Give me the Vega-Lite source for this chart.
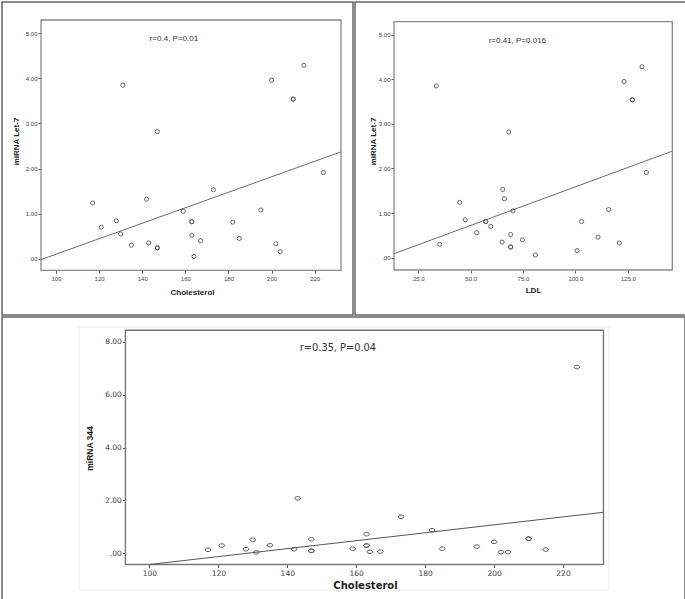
{
  "$schema": "https://vega.github.io/schema/vega-lite/v6.json",
  "padding": {"left": 1, "top": 1, "right": 1, "bottom": 1},
  "background": "white",
  "config": {
    "view": {"stroke": "#666666", "strokeWidth": 1.5},
    "font": "Liberation Sans",
    "concat": {"spacing": 0}
  },
  "datasets": {
    "cholLet7": [
      {"Cholesterol": 117, "Let7": 1.235},
      {"Cholesterol": 121, "Let7": 0.70},
      {"Cholesterol": 128, "Let7": 0.84},
      {"Cholesterol": 130, "Let7": 0.55},
      {"Cholesterol": 131, "Let7": 3.85},
      {"Cholesterol": 135, "Let7": 0.30},
      {"Cholesterol": 142, "Let7": 1.32},
      {"Cholesterol": 143, "Let7": 0.35},
      {"Cholesterol": 147, "Let7": 2.82},
      {"Cholesterol": 147, "Let7": 0.24},
      {"Cholesterol": 147, "Let7": 0.24},
      {"Cholesterol": 159, "Let7": 1.05},
      {"Cholesterol": 163, "Let7": 0.82},
      {"Cholesterol": 163, "Let7": 0.82},
      {"Cholesterol": 163, "Let7": 0.52},
      {"Cholesterol": 164, "Let7": 0.05},
      {"Cholesterol": 167, "Let7": 0.40},
      {"Cholesterol": 173, "Let7": 1.53},
      {"Cholesterol": 182, "Let7": 0.81},
      {"Cholesterol": 185, "Let7": 0.45},
      {"Cholesterol": 195, "Let7": 1.08},
      {"Cholesterol": 200, "Let7": 3.96},
      {"Cholesterol": 202, "Let7": 0.33},
      {"Cholesterol": 204, "Let7": 0.155},
      {"Cholesterol": 210, "Let7": 3.54},
      {"Cholesterol": 210, "Let7": 3.54},
      {"Cholesterol": 215, "Let7": 4.29},
      {"Cholesterol": 224, "Let7": 1.91}
    ],
    "ldlLet7": [
      {"LDL": 33.6, "Let7": 3.85},
      {"LDL": 35.2, "Let7": 0.30},
      {"LDL": 44.8, "Let7": 1.24},
      {"LDL": 47.4, "Let7": 0.85},
      {"LDL": 52.9, "Let7": 0.56},
      {"LDL": 57.2, "Let7": 0.81},
      {"LDL": 57.2, "Let7": 0.81},
      {"LDL": 59.6, "Let7": 0.70},
      {"LDL": 65.0, "Let7": 0.35},
      {"LDL": 65.3, "Let7": 1.53},
      {"LDL": 66.1, "Let7": 1.32},
      {"LDL": 68.2, "Let7": 2.82},
      {"LDL": 69.1, "Let7": 0.52},
      {"LDL": 69.1, "Let7": 0.24},
      {"LDL": 69.1, "Let7": 0.24},
      {"LDL": 70.2, "Let7": 1.05},
      {"LDL": 74.7, "Let7": 0.40},
      {"LDL": 80.9, "Let7": 0.06},
      {"LDL": 100.8, "Let7": 0.16},
      {"LDL": 103.0, "Let7": 0.81},
      {"LDL": 110.8, "Let7": 0.46},
      {"LDL": 115.9, "Let7": 1.08},
      {"LDL": 121.0, "Let7": 0.33},
      {"LDL": 123.2, "Let7": 3.95},
      {"LDL": 127.2, "Let7": 3.54},
      {"LDL": 127.2, "Let7": 3.54},
      {"LDL": 131.8, "Let7": 4.28},
      {"LDL": 133.9, "Let7": 1.91}
    ],
    "chol344": [
      {"Cholesterol": 117, "miR344": 0.13},
      {"Cholesterol": 121, "miR344": 0.29},
      {"Cholesterol": 128, "miR344": 0.15},
      {"Cholesterol": 130, "miR344": 0.51},
      {"Cholesterol": 131, "miR344": 0.03},
      {"Cholesterol": 135, "miR344": 0.30},
      {"Cholesterol": 142, "miR344": 0.15},
      {"Cholesterol": 143, "miR344": 2.08},
      {"Cholesterol": 147, "miR344": 0.53},
      {"Cholesterol": 147, "miR344": 0.09},
      {"Cholesterol": 147, "miR344": 0.09},
      {"Cholesterol": 159, "miR344": 0.17},
      {"Cholesterol": 163, "miR344": 0.72},
      {"Cholesterol": 163, "miR344": 0.29},
      {"Cholesterol": 163, "miR344": 0.29},
      {"Cholesterol": 164, "miR344": 0.05},
      {"Cholesterol": 167, "miR344": 0.06},
      {"Cholesterol": 173, "miR344": 1.38},
      {"Cholesterol": 182, "miR344": 0.87},
      {"Cholesterol": 185, "miR344": 0.17},
      {"Cholesterol": 195, "miR344": 0.25},
      {"Cholesterol": 200, "miR344": 0.43},
      {"Cholesterol": 202, "miR344": 0.04},
      {"Cholesterol": 204, "miR344": 0.04},
      {"Cholesterol": 210, "miR344": 0.55},
      {"Cholesterol": 210, "miR344": 0.55},
      {"Cholesterol": 215, "miR344": 0.14},
      {"Cholesterol": 224, "miR344": 7.05}
    ],
    "fitA": [
      {"Cholesterol": 93.04, "Let7": -0.02},
      {"Cholesterol": 232.2, "Let7": 2.37}
    ],
    "fitB": [
      {"LDL": 13.4, "Let7": 0.09},
      {"LDL": 146.3, "Let7": 2.39}
    ],
    "fitC": [
      {"Cholesterol": 100, "miR344": -0.428},
      {"Cholesterol": 231.75, "miR344": 1.55}
    ]
  },
  "vconcat": [
    {
      "hconcat": [
        {
          "width": 351,
          "height": 313,
          "layer": [
            {
              "data": {"values": [{}]},
              "mark": {"type": "rect", "fillOpacity": 0, "stroke": "#8a8a8a", "strokeWidth": 1.3},
              "encoding": {
                "x": {"datum": 93.04, "type": "quantitative", "scale": {"domain": [74.95, 237.77], "nice": false, "zero": false}, "axis": {"title": "Cholesterol"}},
                "x2": {"datum": 232.2},
                "y": {"datum": -0.257, "type": "quantitative", "scale": {"domain": [-1.249, 5.694], "nice": false, "zero": false}, "axis": {"title": "miRNA Let-7"}},
                "y2": {"datum": 5.295}
              }
            },
            {
              "data": {"name": "fitA"},
              "mark": {"type": "line", "color": "#6a6a6a", "strokeWidth": 1},
              "encoding": {
                "x": {"field": "Cholesterol", "type": "quantitative", "scale": {"domain": [74.95, 237.77], "nice": false, "zero": false}, "axis": {"title": "Cholesterol"}},
                "y": {"field": "Let7", "type": "quantitative", "scale": {"domain": [-1.249, 5.694], "nice": false, "zero": false}, "axis": {"title": "miRNA Let-7"}}
              }
            },
            {
              "data": {"name": "cholLet7"},
              "mark": {"type": "point", "shape": "circle", "filled": false, "size": 17, "color": "#555555", "strokeWidth": 0.9, "opacity": 1},
              "encoding": {
                "x": {
                  "field": "Cholesterol", "type": "quantitative",
                  "scale": {"domain": [74.95, 237.77], "nice": false, "zero": false},
                  "axis": {
                    "title": "Cholesterol", "values": [100, 120, 140, 160, 180, 200, 220], "format": "d",
                    "offset": -44.7, "domain": false, "grid": false, "tickSize": 3, "tickColor": "#666666",
                    "labelFontSize": 6, "labelColor": "#444444", "labelPadding": 2, "labelFont": "Liberation Sans",
                    "titleX": 190, "titleY": 21.7, "titleBaseline": "middle", "titleAlign": "center",
                    "titleFontSize": 8, "titleFontWeight": "bold", "titleColor": "#222222", "titleFont": "Liberation Sans"
                  }
                },
                "y": {
                  "field": "Let7", "type": "quantitative",
                  "scale": {"domain": [-1.249, 5.694], "nice": false, "zero": false},
                  "axis": {
                    "title": "miRNA Let-7", "values": [0, 1, 2, 3, 4, 5],
                    "labelExpr": "datum.value == 0 ? '.00' : format(datum.value, '.2f')",
                    "offset": -39, "domain": false, "grid": false, "tickSize": 3, "tickColor": "#666666",
                    "labelFontSize": 6, "labelColor": "#444444", "labelPadding": 1, "labelFont": "Liberation Sans",
                    "titleX": -25, "titleY": 139, "titleBaseline": "middle", "titleAlign": "center",
                    "titleFontSize": 8, "titleFontWeight": "bold", "titleColor": "#222222", "titleFont": "Liberation Sans"
                  }
                }
              }
            },
            {
              "data": {"values": [{}]},
              "mark": {"type": "text", "fontSize": 8, "color": "#333333", "font": "Liberation Sans", "align": "center", "baseline": "middle"},
              "encoding": {
                "x": {"datum": 154.7, "type": "quantitative", "scale": {"domain": [74.95, 237.77], "nice": false, "zero": false}, "axis": {"title": "Cholesterol"}},
                "y": {"datum": 4.87, "type": "quantitative", "scale": {"domain": [-1.249, 5.694], "nice": false, "zero": false}, "axis": {"title": "miRNA Let-7"}},
                "text": {"value": "r=0.4, P=0.01"}
              }
            }
          ]
        },
        {
          "width": 332,
          "height": 313,
          "layer": [
            {
              "data": {"values": [{}]},
              "mark": {"type": "rect", "fillOpacity": 0, "stroke": "#8a8a8a", "strokeWidth": 1.3},
              "encoding": {
                "x": {"datum": 13.4, "type": "quantitative", "scale": {"domain": [-5.23, 153.3], "nice": false, "zero": false}, "axis": {"title": "LDL"}},
                "x2": {"datum": 146.3},
                "y": {"datum": -0.276, "type": "quantitative", "scale": {"domain": [-1.285, 5.733], "nice": false, "zero": false}, "axis": {"title": "miRNA Let-7"}},
                "y2": {"datum": 5.291}
              }
            },
            {
              "data": {"name": "fitB"},
              "mark": {"type": "line", "color": "#6a6a6a", "strokeWidth": 1},
              "encoding": {
                "x": {"field": "LDL", "type": "quantitative", "scale": {"domain": [-5.23, 153.3], "nice": false, "zero": false}, "axis": {"title": "LDL"}},
                "y": {"field": "Let7", "type": "quantitative", "scale": {"domain": [-1.285, 5.733], "nice": false, "zero": false}, "axis": {"title": "miRNA Let-7"}}
              }
            },
            {
              "data": {"name": "ldlLet7"},
              "mark": {"type": "point", "shape": "circle", "filled": false, "size": 17, "color": "#555555", "strokeWidth": 0.9, "opacity": 1},
              "encoding": {
                "x": {
                  "field": "LDL", "type": "quantitative",
                  "scale": {"domain": [-5.23, 153.3], "nice": false, "zero": false},
                  "axis": {
                    "title": "LDL", "values": [25, 50, 75, 100, 125], "format": ".1f",
                    "offset": -45, "domain": false, "grid": false, "tickSize": 3, "tickColor": "#666666",
                    "labelFontSize": 6, "labelColor": "#444444", "labelPadding": 2, "labelFont": "Liberation Sans",
                    "titleX": 178, "titleY": 20.3, "titleBaseline": "middle", "titleAlign": "center",
                    "titleFontSize": 8, "titleFontWeight": "bold", "titleColor": "#222222", "titleFont": "Liberation Sans"
                  }
                },
                "y": {
                  "field": "Let7", "type": "quantitative",
                  "scale": {"domain": [-1.285, 5.733], "nice": false, "zero": false},
                  "axis": {
                    "title": "miRNA Let-7", "values": [0, 1, 2, 3, 4, 5],
                    "labelExpr": "datum.value == 0 ? '.00' : format(datum.value, '.2f')",
                    "offset": -39, "domain": false, "grid": false, "tickSize": 3, "tickColor": "#666666",
                    "labelFontSize": 6, "labelColor": "#444444", "labelPadding": 1, "labelFont": "Liberation Sans",
                    "titleX": -21, "titleY": 139, "titleBaseline": "middle", "titleAlign": "center",
                    "titleFontSize": 8, "titleFontWeight": "bold", "titleColor": "#222222", "titleFont": "Liberation Sans"
                  }
                }
              }
            },
            {
              "data": {"values": [{}]},
              "mark": {"type": "text", "fontSize": 8, "color": "#333333", "font": "Liberation Sans", "align": "center", "baseline": "middle"},
              "encoding": {
                "x": {"datum": 72.3, "type": "quantitative", "scale": {"domain": [-5.23, 153.3], "nice": false, "zero": false}, "axis": {"title": "LDL"}},
                "y": {"datum": 4.86, "type": "quantitative", "scale": {"domain": [-1.285, 5.733], "nice": false, "zero": false}, "axis": {"title": "miRNA Let-7"}},
                "text": {"value": "r=0.41, P=0.016"}
              }
            }
          ]
        }
      ]
    },
    {
      "width": 683,
      "height": 284,
      "layer": [
        {
          "data": {"values": [{}]},
          "mark": {"type": "rect", "fillOpacity": 0, "stroke": "#ececec", "strokeWidth": 1},
          "encoding": {
            "x": {"datum": 79.57, "type": "quantitative", "scale": {"domain": [57.23, 255.4], "nice": false, "zero": false}, "axis": {"title": "Cholesterol"}},
            "x2": {"datum": 233.35},
            "y": {"datum": -1.394, "type": "quantitative", "scale": {"domain": [-1.81, 8.943], "nice": false, "zero": false}, "axis": {"title": "miRNA 344"}},
            "y2": {"datum": 8.564}
          }
        },
        {
          "data": {"values": [{}]},
          "mark": {"type": "rect", "fillOpacity": 0, "stroke": "#777777", "strokeWidth": 1.4},
          "encoding": {
            "x": {"datum": 93.04, "type": "quantitative", "scale": {"domain": [57.23, 255.4], "nice": false, "zero": false}, "axis": {"title": "Cholesterol"}},
            "x2": {"datum": 231.75},
            "y": {"datum": -0.428, "type": "quantitative", "scale": {"domain": [-1.81, 8.943], "nice": false, "zero": false}, "axis": {"title": "miRNA 344"}},
            "y2": {"datum": 8.44}
          }
        },
        {
          "data": {"name": "fitC"},
          "mark": {"type": "line", "color": "#555555", "strokeWidth": 1},
          "encoding": {
            "x": {"field": "Cholesterol", "type": "quantitative", "scale": {"domain": [57.23, 255.4], "nice": false, "zero": false}, "axis": {"title": "Cholesterol"}},
            "y": {"field": "miR344", "type": "quantitative", "scale": {"domain": [-1.81, 8.943], "nice": false, "zero": false}, "axis": {"title": "miRNA 344"}}
          }
        },
        {
          "data": {"name": "chol344"},
          "mark": {"type": "point", "shape": "M-1,0A1,0.62,0,1,1,1,0A1,0.62,0,1,1,-1,0Z", "filled": false, "size": 32, "color": "#555555", "strokeWidth": 1, "opacity": 1},
          "encoding": {
            "x": {
              "field": "Cholesterol", "type": "quantitative",
              "scale": {"domain": [57.23, 255.4], "nice": false, "zero": false},
              "axis": {
                "title": "Cholesterol", "values": [100, 120, 140, 160, 180, 200, 220], "format": "d",
                "offset": -36.5, "domain": false, "grid": false, "tickSize": 3, "tickColor": "#555555",
                "labelFontSize": 7.5, "labelColor": "#444444", "labelPadding": 2, "labelFont": "DejaVu Sans",
                "titleX": 363, "titleY": 20.5, "titleBaseline": "middle", "titleAlign": "center",
                "titleFontSize": 10, "titleFontWeight": "bold", "titleColor": "#222222", "titleFont": "DejaVu Sans"
              }
            },
            "y": {
              "field": "miR344", "type": "quantitative",
              "scale": {"domain": [-1.81, 8.943], "nice": false, "zero": false},
              "axis": {
                "title": "miRNA 344", "values": [0, 2, 4, 6, 8],
                "labelExpr": "datum.value == 0 ? '.00' : format(datum.value, '.2f')",
                "offset": -123.4, "domain": false, "grid": false, "tickSize": 3, "tickColor": "#555555",
                "labelFontSize": 7.5, "labelColor": "#444444", "labelPadding": 1, "labelFont": "DejaVu Sans",
                "titleX": -36, "titleY": 131, "titleBaseline": "middle", "titleAlign": "center",
                "titleFontSize": 8.5, "titleFontWeight": "bold", "titleColor": "#222222", "titleFont": "Liberation Sans"
              }
            }
          }
        },
        {
          "data": {"values": [{}]},
          "mark": {"type": "text", "fontSize": 9.8, "color": "#333333", "font": "DejaVu Sans", "align": "center", "baseline": "middle"},
          "encoding": {
            "x": {"datum": 154.7, "type": "quantitative", "scale": {"domain": [57.23, 255.4], "nice": false, "zero": false}, "axis": {"title": "Cholesterol"}},
            "y": {"datum": 7.77, "type": "quantitative", "scale": {"domain": [-1.81, 8.943], "nice": false, "zero": false}, "axis": {"title": "miRNA 344"}},
            "text": {"value": "r=0.35, P=0.04"}
          }
        }
      ]
    }
  ]
}
